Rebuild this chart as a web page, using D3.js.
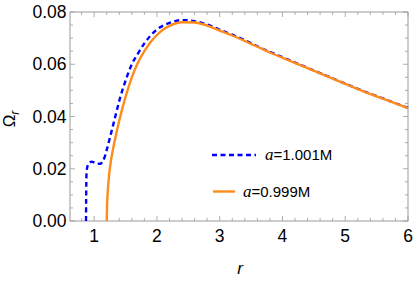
<!DOCTYPE html>
<html>
<head>
<meta charset="utf-8">
<script src="https://cdn.jsdelivr.net/npm/d3@7"></script>
<style>
  body { margin: 0; background: #fff; }
  svg text { font-family: "Liberation Sans", Arial, sans-serif; }
</style>
</head>
<body>
<div id="chart"></div>
<script>
// a = 1.001M (blue dashed)
var rBlue = [0.870, 0.872, 0.875, 0.880, 0.900, 0.930, 0.960, 1.000, 1.050, 1.100, 1.130, 1.160, 1.200, 1.250, 1.300, 1.350, 1.400, 1.500, 1.600, 1.700, 1.800, 1.900, 2.000, 2.200, 2.400, 2.600, 2.800, 3.000, 3.200, 3.400, 3.600, 3.800, 4.000, 4.400, 4.800, 5.200, 5.600, 6.000];
var omBlue = [0.0000, 0.0080, 0.0150, 0.0190, 0.0215, 0.0225, 0.0227, 0.0224, 0.0219, 0.0219, 0.0226, 0.0240, 0.0272, 0.0318, 0.0365, 0.0413, 0.0460, 0.0537, 0.0600, 0.0642, 0.0680, 0.0710, 0.0733, 0.0758, 0.0769, 0.0765, 0.0752, 0.0732, 0.0713, 0.0692, 0.0669, 0.0647, 0.0627, 0.0586, 0.0546, 0.0506, 0.0469, 0.0433];

// a = 0.999M (orange)
var rOrange = [1.200, 1.205, 1.210, 1.220, 1.240, 1.270, 1.300, 1.350, 1.400, 1.500, 1.600, 1.700, 1.800, 1.900, 2.000, 2.100, 2.200, 2.400, 2.600, 2.800, 3.000, 3.200, 3.400, 3.600, 3.800, 4.000, 4.400, 4.800, 5.200, 5.600, 6.000];
var omOrange = [0.0000, 0.0055, 0.0085, 0.0125, 0.0180, 0.0235, 0.0275, 0.0332, 0.0385, 0.0475, 0.0550, 0.0608, 0.0650, 0.0685, 0.0712, 0.0733, 0.0747, 0.0761, 0.0760, 0.0748, 0.0729, 0.0710, 0.0689, 0.0667, 0.0645, 0.0625, 0.0585, 0.0545, 0.0505, 0.0468, 0.0432];

var xTicks = [1, 2, 3, 4, 5, 6];
var yTicks = [0, 0.02, 0.04, 0.06, 0.08];
var legendLabels = ["=1.001M", "=0.999M"];

var W = 415, H = 281;
var margin = {top: 12, right: 7, bottom: 60, left: 70};
var iw = W - margin.left - margin.right;
var ih = H - margin.top - margin.bottom;

var svg = d3.select("#chart").append("svg")
  .attr("width", W)
  .attr("height", H);

var g = svg.append("g")
  .attr("transform", "translate(" + margin.left + "," + margin.top + ")");

var x = d3.scaleLinear().domain([0.615, 6]).range([0, iw]);
var y = d3.scaleLinear().domain([0, 0.08]).range([ih, 0]);

var frameColor = "#9a9a9a";

// minor ticks
var xMinor = d3.range(0.8, 6.001, 0.2).filter(function(v) { return Math.abs(v - Math.round(v)) > 1e-6; });
var yMinor = d3.range(0.005, 0.08, 0.005).filter(function(v) { return Math.abs(v / 0.02 - Math.round(v / 0.02)) > 1e-6; });

function tickLines(vals, len, isX) {
  vals.forEach(function(v) {
    if (isX) {
      g.append("line").attr("x1", x(v)).attr("x2", x(v)).attr("y1", ih).attr("y2", ih - len)
        .attr("stroke", frameColor).attr("stroke-width", 0.8);
      g.append("line").attr("x1", x(v)).attr("x2", x(v)).attr("y1", 0).attr("y2", len)
        .attr("stroke", frameColor).attr("stroke-width", 0.8);
    } else {
      g.append("line").attr("x1", 0).attr("x2", len).attr("y1", y(v)).attr("y2", y(v))
        .attr("stroke", frameColor).attr("stroke-width", 0.8);
      g.append("line").attr("x1", iw).attr("x2", iw - len).attr("y1", y(v)).attr("y2", y(v))
        .attr("stroke", frameColor).attr("stroke-width", 0.8);
    }
  });
}
tickLines(xTicks, 5, true);
tickLines(xMinor, 3, true);
tickLines(yTicks, 5, false);
tickLines(yMinor, 3, false);

// frame
g.append("rect")
  .attr("x", 0).attr("y", 0)
  .attr("width", iw).attr("height", ih)
  .attr("fill", "none")
  .attr("stroke", frameColor)
  .attr("stroke-width", 1);

// tick labels
g.selectAll("text.xt")
  .data(xTicks)
  .enter().append("text")
  .attr("class", "xt")
  .attr("x", function(d) { return x(d); })
  .attr("y", ih + 21)
  .attr("text-anchor", "middle")
  .style("font-size", "17.5px")
  .text(function(d) { return d; });

g.selectAll("text.yt")
  .data(yTicks)
  .enter().append("text")
  .attr("class", "yt")
  .attr("x", -3.5)
  .attr("y", function(d) { return y(d) + 6; })
  .attr("text-anchor", "end")
  .style("font-size", "17.5px")
  .text(function(d) { return d.toFixed(2); });

// axis labels
svg.append("text")
  .attr("transform", "translate(15,119) rotate(-90)")
  .attr("text-anchor", "middle")
  .style("font-size", "17px")
  .html('Ω<tspan font-style="italic" font-size="12px" dy="4">r</tspan>');

svg.append("text")
  .attr("x", 240)
  .attr("y", 274)
  .attr("text-anchor", "middle")
  .style("font-size", "17px")
  .style("font-style", "italic")
  .text("r");

// curves
var line = d3.line()
  .x(function(d) { return x(d[0]); })
  .y(function(d) { return y(d[1]); })
  .curve(d3.curveMonotoneX);

var blueData = d3.zip(rBlue, omBlue);
var orangeData = d3.zip(rOrange, omOrange);

g.append("path")
  .datum(blueData)
  .attr("fill", "none")
  .attr("stroke", "#0000ff")
  .attr("stroke-width", 2.4)
  .attr("stroke-dasharray", "5,3.5")
  .attr("d", line);

g.append("path")
  .datum(orangeData)
  .attr("fill", "none")
  .attr("stroke", "#ff8c1a")
  .attr("stroke-width", 2.4)
  .attr("d", line);

// legend
var legend = svg.append("g");
legend.append("line")
  .attr("x1", 212).attr("x2", 256).attr("y1", 155).attr("y2", 155)
  .attr("stroke", "#0000ff").attr("stroke-width", 2.4)
  .attr("stroke-dasharray", "5,3.5");
legend.append("line")
  .attr("x1", 213).attr("x2", 235).attr("y1", 191.5).attr("y2", 191.5)
  .attr("stroke", "#ff8c1a").attr("stroke-width", 2.4);

var legY = [160, 196.5];
var legX = [265, 243];
legendLabels.forEach(function(lab, i) {
  var t = legend.append("text")
    .attr("x", legX[i])
    .attr("y", legY[i])
    .style("font-size", "15px");
  t.append("tspan")
    .style("font-family", "'Liberation Serif', 'Times New Roman', serif")
    .style("font-style", "italic")
    .style("font-size", "17px")
    .text("a");
  t.append("tspan").text(lab);
});
</script>
</body>
</html>
